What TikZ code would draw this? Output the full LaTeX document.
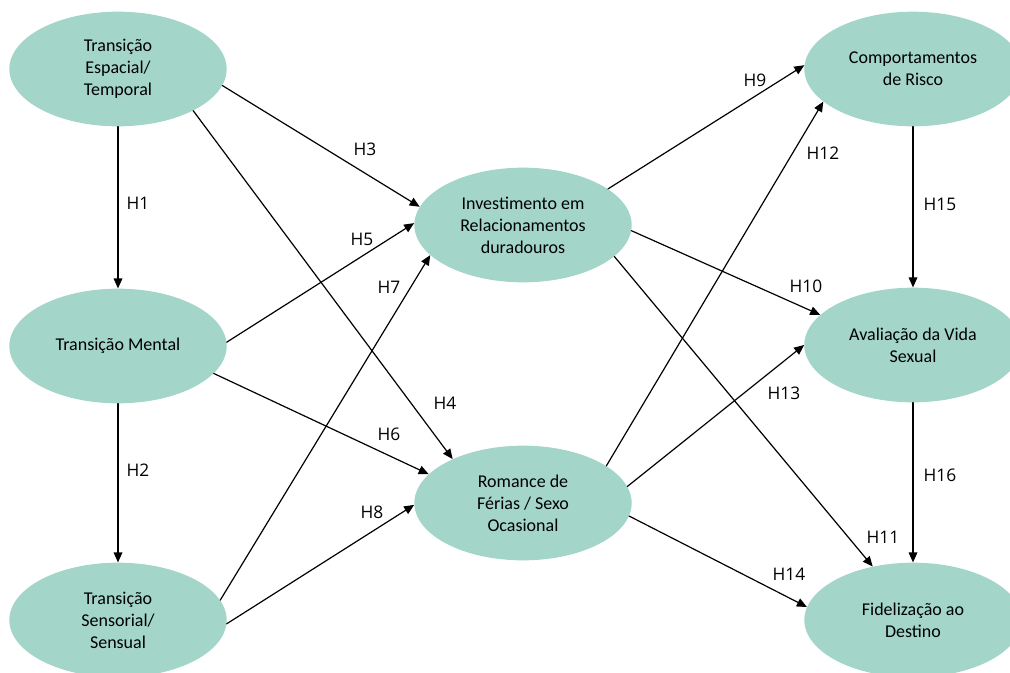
\documentclass[tikz,border=0pt]{standalone}
\usepackage{fontspec}
\setmainfont{Carlito}
\newfontfamily\hlabelfont{Open Sans}
\usetikzlibrary{shapes.geometric,arrows.meta}
\definecolor{FigureMint}{HTML}{A3D5C9}

\begin{document}
\begin{tikzpicture}[x=0.75pt,y=-0.75pt,line cap=round,
  construct/.style={ellipse,fill=FigureMint,minimum width=163pt,minimum height=86pt,inner sep=0pt,
    align=center,font=\fontsize{13.5}{16.5}\selectfont},
  path/.style={-{Triangle[length=7.5pt,width=6.5pt]},line width=0.9pt},
  hyp/.style={font=\hlabelfont\fontsize{13}{15}\selectfont}]
  \useasboundingbox (0,0) rectangle (1010,672);
  \node[construct] (espacial) at (118,69) {Transição\\Espacial/\\Temporal};
  \node[construct] (mental) at (118,346) {Transição Mental};
  \node[construct] (sensorial) at (118,620) {Transição\\Sensorial/\\Sensual};
  \node[construct] (invest) at (523,225) {Investimento em\\Relacionamentos\\duradouros};
  \node[construct] (romance) at (523,503) {Romance de\\Férias / Sexo\\Ocasional};
  \node[construct] (risco) at (913,69) {Comportamentos\\de Risco};
  \node[construct] (vida) at (913,345) {Avaliação da Vida\\Sexual};
  \node[construct] (destino) at (913,620) {Fidelização ao\\Destino};
  % hypotheses
  \draw[path] (espacial.south)--(mental.north); \node[hyp] (h1) at (138,203) {H1};
  \draw[path] (mental.south)--(sensorial.north); \node[hyp] (h2) at (138,470) {H2};
  \draw[path] (espacial.-9)--(invest.170); \node[hyp] (h3) at (365,149) {H3};
  \draw[path] (espacial.-29)--(romance.148); \node[hyp] (h4) at (445,403) {H4};
  \draw[path] (mental.2)--(invest.179); \node[hyp] (h5) at (362,239) {H5};
  \draw[path] (mental.-16)--(romance.163); \node[hyp] (h6) at (389,434) {H6};
  \draw[path] (sensorial.11)--(invest.198); \node[hyp] (h7) at (389,287) {H7};
  \draw[path] (sensorial.-2)--(romance.181); \node[hyp] (h8) at (372,512) {H8};
  \draw[path] (invest.23)--(risco.178); \node[hyp] (h9) at (755,80) {H9};
  \draw[path] (invest.-3)--(vida.162); \node[hyp] (h10) at (806,286) {H10};
  \draw[path] (invest.-19)--(destino.127); \node[hyp] (h11) at (883,537) {H11};
  \draw[path] (romance.24)--(risco.200); \node[hyp] (h12) at (823,153) {H12};
  \draw[path] (romance.9)--(vida.180); \node[hyp] (h13) at (784,393) {H13};
  \draw[path] (romance.-7)--(destino.173); \node[hyp] (h14) at (789,574) {H14};
  \draw[path] (risco.south)--(vida.north); \node[hyp] (h15) at (940,204) {H15};
  \draw[path] (vida.south)--(destino.north); \node[hyp] (h16) at (940,475) {H16};
\end{tikzpicture}
\end{document}
